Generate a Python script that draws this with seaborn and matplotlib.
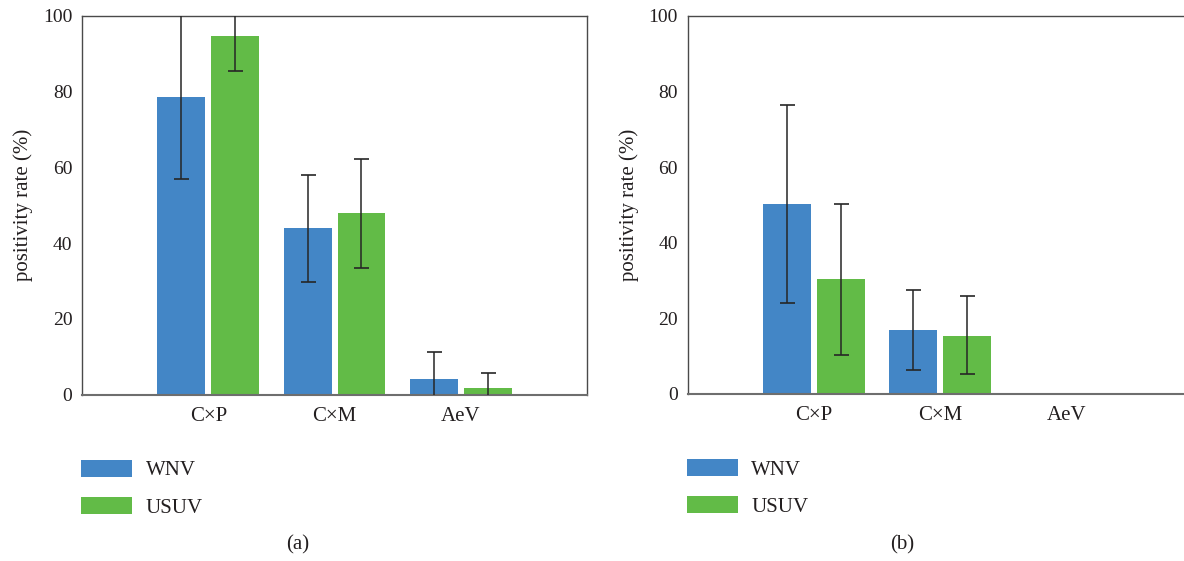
import numpy as np
import pandas as pd
import seaborn as sns
import matplotlib.pyplot as plt

# Values
categories = ["C×P", "C×M", "AeV"]
viruses = ["WNV", "USUV"]

# panel (a)
a_wnv = [78.5, 43.9, 4.1]
a_wnv_lo = [57.0, 29.8, -3.1]
a_wnv_hi = [100.1, 57.9, 11.3]
a_usuv = [94.6, 47.9, 1.7]
a_usuv_lo = [85.3, 33.5, -2.2]
a_usuv_hi = [103.9, 62.2, 5.6]

# panel (b)
b_wnv = [50.2, 16.8, 0.0]
b_wnv_lo = [24.1, 6.3, np.nan]
b_wnv_hi = [76.4, 27.4, np.nan]
b_usuv = [30.3, 15.3, 0.0]
b_usuv_lo = [10.2, 5.2, np.nan]
b_usuv_hi = [50.3, 25.9, np.nan]

yticks = [0, 20, 40, 60, 80, 100]
ylabel = "positivity rate (%)"
captions = ["(a)", "(b)"]

blue = "#4386c6"
green = "#62bb47"
text_col = "#231f20"

sns.set_theme(style="white")
plt.rcParams["font.family"] = ["Liberation Serif", "DejaVu Serif"]

fig = plt.figure(figsize=(11.84, 5.61), dpi=100)
ax_a = fig.add_axes([0.0693, 0.2964, 0.4265, 0.6756])
ax_b = fig.add_axes([0.5808, 0.2977, 0.4265, 0.6738])


def panel(ax, wnv, wnv_lo, wnv_hi, usuv, usuv_lo, usuv_hi, caption, cap_x):
    df = pd.DataFrame({
        "group": categories * 2,
        "virus": ["WNV"] * 3 + ["USUV"] * 3,
        "rate": wnv + usuv,
    })
    sns.barplot(data=df, x="group", y="rate", hue="virus", order=categories,
                hue_order=viruses, palette=[blue, green], saturation=1,
                width=0.854, gap=0.11, errorbar=None, linewidth=0, ax=ax)

    lows = [wnv_lo, usuv_lo]
    highs = [wnv_hi, usuv_hi]
    vals = [wnv, usuv]
    bar_sets = list(ax.containers)[:2]
    for k, cont in enumerate(bar_sets):
        for j, bar in enumerate(cont):
            lo, hi, v = lows[k][j], highs[k][j], vals[k][j]
            if np.isnan(lo):
                continue
            xc = bar.get_x() + bar.get_width() / 2
            ax.errorbar(xc, v, yerr=[[v - lo], [hi - v]], fmt="none",
                        ecolor="#262626", elinewidth=1.1, capsize=5.4,
                        capthick=1.2, zorder=5)

    ax.set_xlim(-1, 3)
    ax.set_ylim(0, 100)
    ax.set_yticks(yticks)
    ax.set_xlabel("")
    ax.set_ylabel(ylabel, fontsize=15, color=text_col, labelpad=7)
    ax.tick_params(axis="both", length=0, colors=text_col)
    ax.tick_params(axis="y", labelsize=14, pad=7)
    ax.tick_params(axis="x", labelsize=15, pad=9)
    for side in ["top", "left", "right"]:
        ax.spines[side].set_color("#4a4a4a")
        ax.spines[side].set_linewidth(1.0)
    ax.spines["bottom"].set_color("#6e6e6e")
    ax.spines["bottom"].set_linewidth(1.5)

    sns.move_legend(ax, "upper left", bbox_to_anchor=(-0.002, -0.172),
                    frameon=False, title=None, fontsize=15,
                    handlelength=2.45, handleheight=0.85,
                    handletextpad=0.65, labelspacing=0.8,
                    borderpad=0, borderaxespad=0)
    for t in ax.get_legend().get_texts():
        t.set_color(text_col)

    fig.text(cap_x, 0.0285, caption, ha="center", va="center",
             fontsize=15, color=text_col)


panel(ax_a, a_wnv, a_wnv_lo, a_wnv_hi, a_usuv, a_usuv_lo, a_usuv_hi,
      captions[0], 0.2514)
panel(ax_b, b_wnv, b_wnv_lo, b_wnv_hi, b_usuv, b_usuv_lo, b_usuv_hi,
      captions[1], 0.7616)

fig.savefig("out.png", dpi=100)
